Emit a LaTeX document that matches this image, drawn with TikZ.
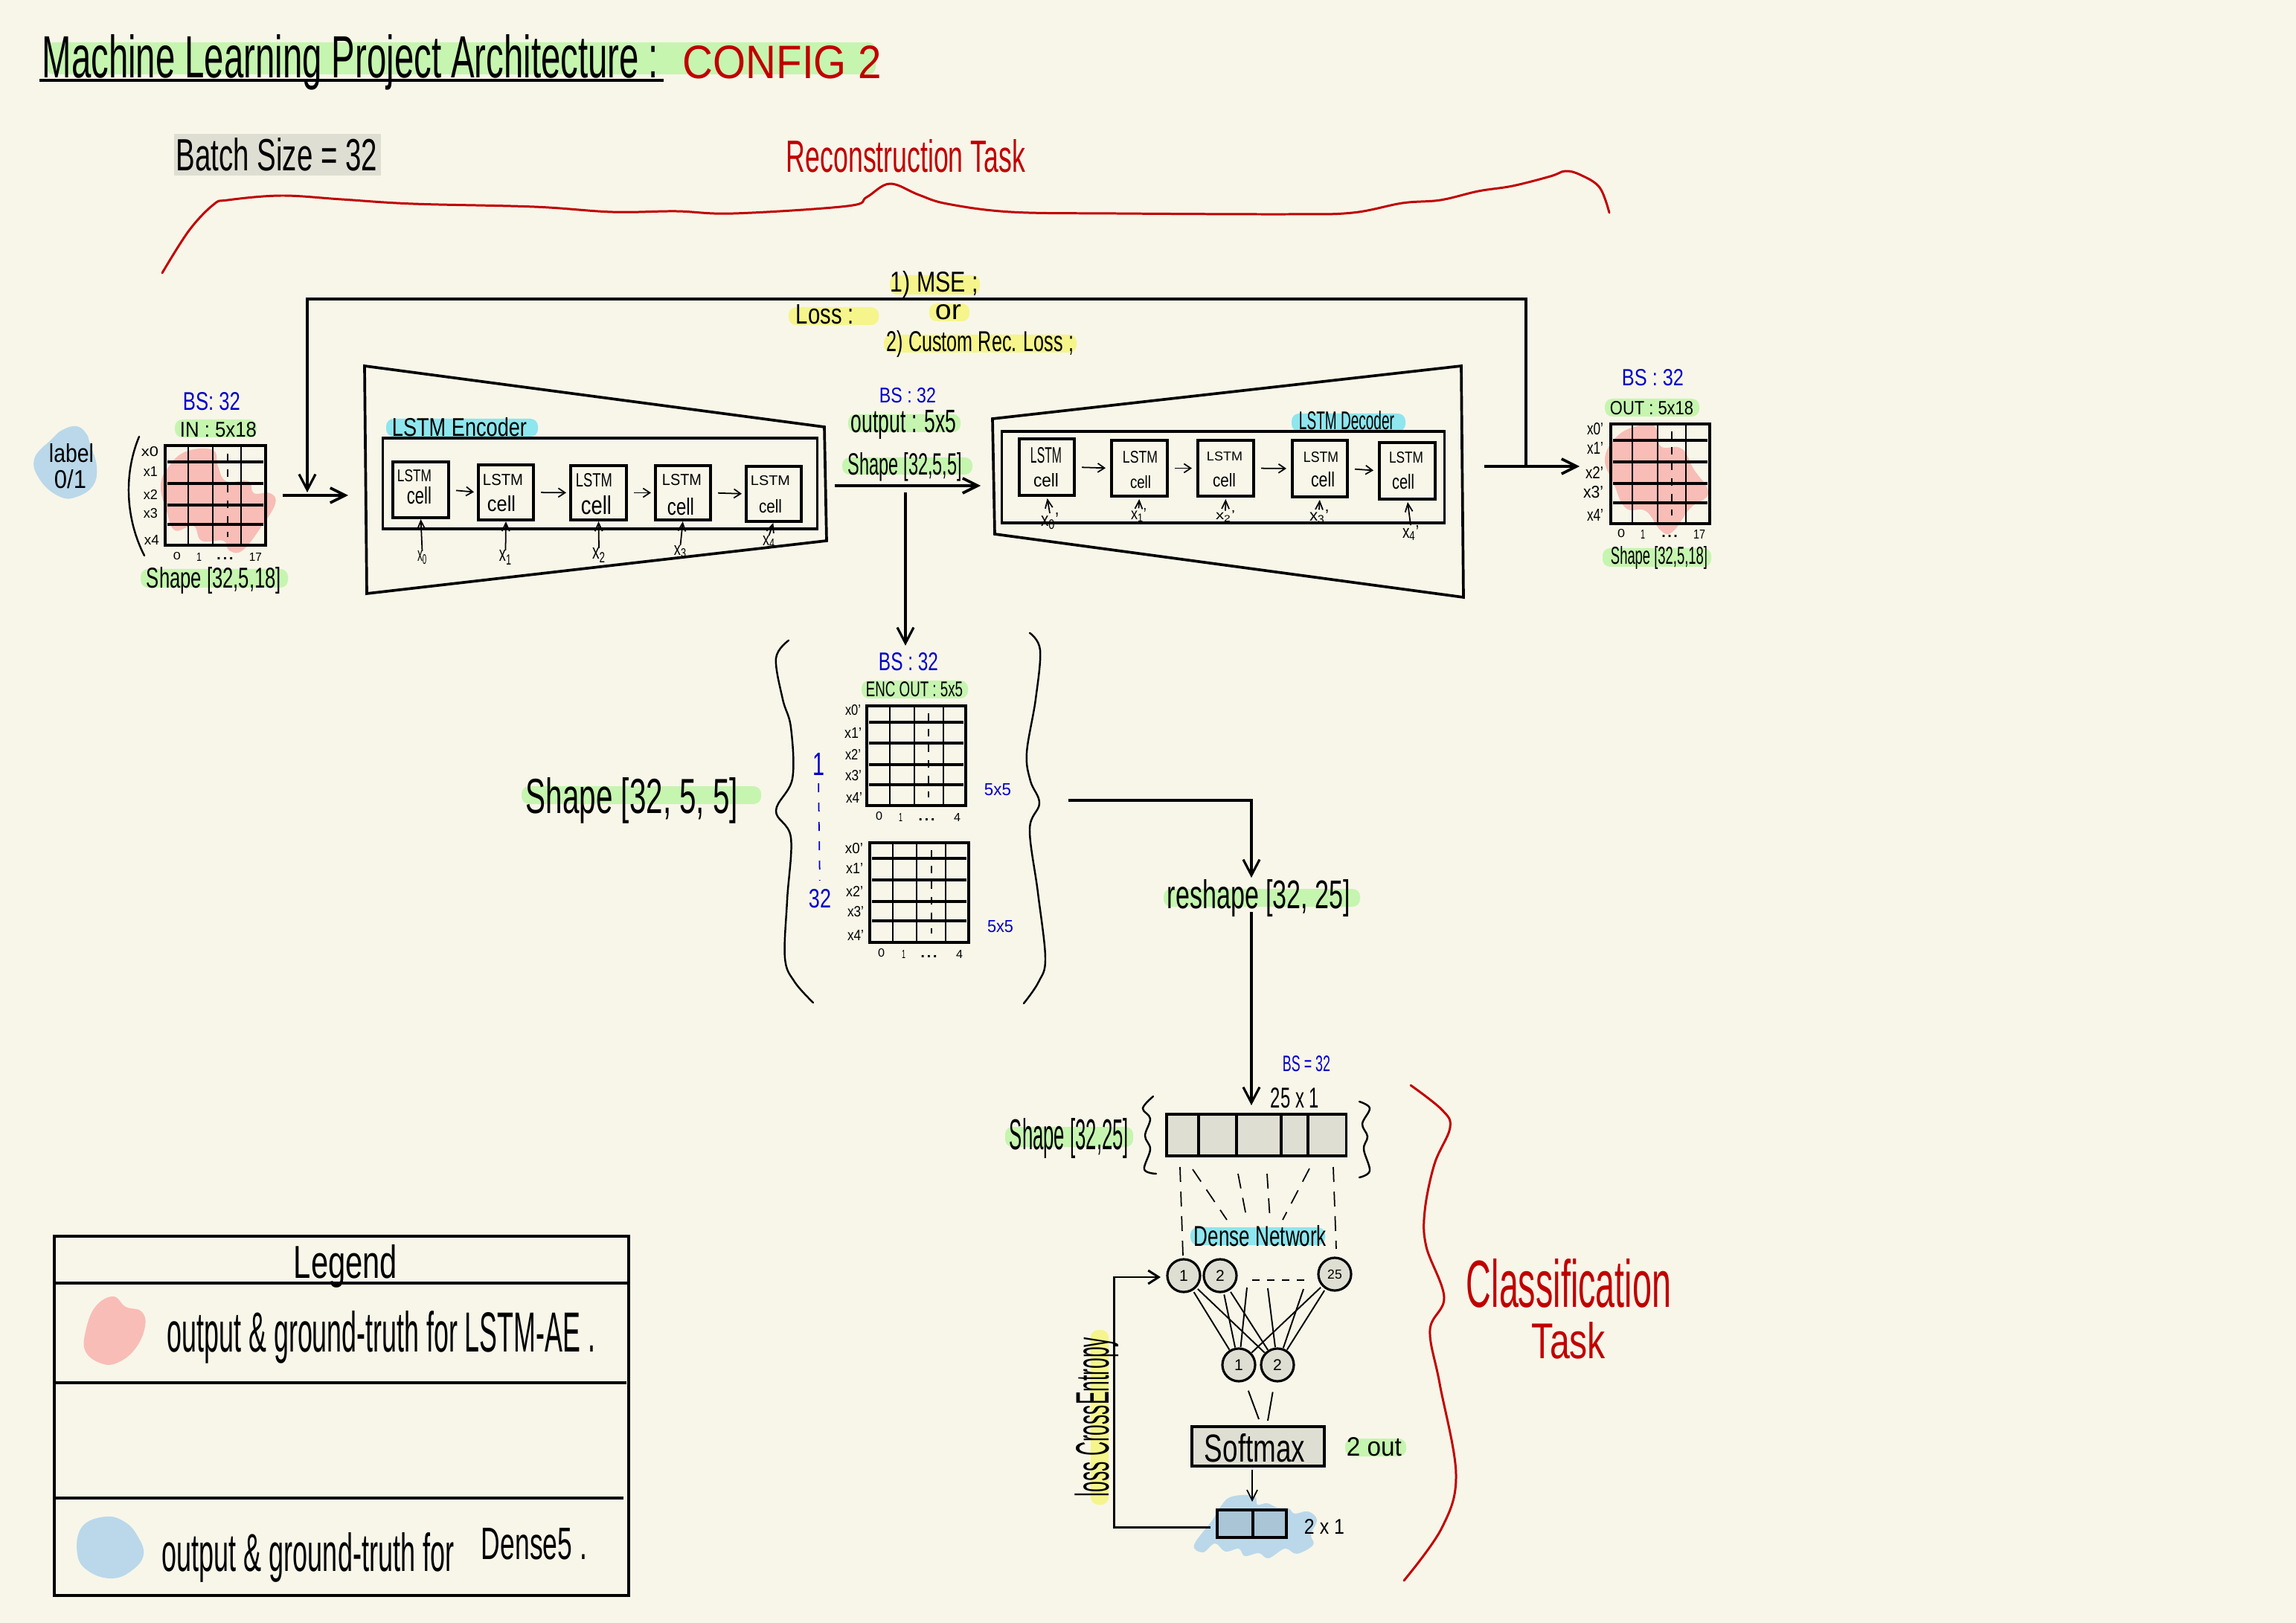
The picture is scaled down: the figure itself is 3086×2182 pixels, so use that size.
\documentclass[tikz,border=0pt]{standalone}
\usepackage{fontspec}
\usepackage{graphicx}
\usetikzlibrary{arrows.meta}
\setmainfont{Liberation Sans}
\definecolor{paper}{HTML}{F8F6E9}
\definecolor{hlgreen}{HTML}{C6F5B0}
\definecolor{hlyellow}{HTML}{F5F58C}
\definecolor{hlcyan}{HTML}{8EE6EE}
\definecolor{inkred}{HTML}{C00000}
\definecolor{inkblue}{HTML}{0000C8}
\definecolor{blobpink}{HTML}{F8BDB6}
\definecolor{blobblue}{HTML}{BAD8EA}
\definecolor{boxgray}{HTML}{DFDED2}
\definecolor{outfill}{HTML}{A9C5D6}
\newlength\twd
\newlength\thg
\tikzset{
  x=0.01cm,y=-0.01cm,
  hw/.style={inner sep=0pt,outer sep=0pt},
  penbox/.style={draw=black,line width=0.9pt,inner sep=0pt,outer sep=0pt},
  graybox/.style={penbox,fill=boxgray},
  thickln/.style={line width=1.05pt,draw=black},
  thinln/.style={line width=0.65pt,draw=black},
  bigarrow/.style={thickln,-{Straight Barb[length=2mm,width=2mm]}},
  arrowdown/.style={line width=0.9pt,draw=black,-{Straight Barb[length=2.1mm,width=2.2mm]}},
  smallarrow/.style={line width=0.5pt,draw=black,-{Straight Barb[length=0.9mm,width=1.2mm]}},
  uparrow/.style={line width=0.5pt,draw=black,-{Straight Barb[length=1.1mm,width=1mm]}},
  dashdots/.style={line width=0.5pt,draw=black,dash pattern=on 1mm off 1.1mm},
  handdash/.style={line width=0.5pt,draw=black,dash pattern=on 2mm off 1.3mm},
  bluedash/.style={line width=0.5pt,draw=inkblue,dash pattern=on 1.2mm off 1.4mm},
  redpen/.style={line width=0.85pt,draw=inkred,line cap=round},
  blackpen/.style={line width=0.7pt,draw=black,line cap=round},
  neuron/.style={circle,draw=black,fill=boxgray,line width=0.9pt,minimum size=0.44cm,inner sep=0pt,outer sep=0pt,font=\fontsize{6}{6}\selectfont},
}
% text fitted to a measured box: name,x1,x2,y1,y2,colour,text
\newcommand{\TX}[7]{%
  \pgfmathsetlength{\twd}{((#3)-(#2))*0.284528pt}%
  \pgfmathsetlength{\thg}{((#5)-(#4))*0.284528pt}%
  \node[hw,text=#6] (#1) at ({((#2)+(#3))/2},{((#4)+(#5))/2}) {\resizebox{\twd}{\thg}{#7}};}
% highlighter: colour,x1,x2,y1,y2
\newcommand{\HLB}[5]{\fill[#1,rounded corners=1mm] (#2,#4) rectangle (#3,#5);}
% box node: name,style,x1,x2,y1,y2
\newcommand{\BX}[6]{%
  \pgfmathsetlength{\twd}{((#4)-(#3))*0.284528pt}%
  \pgfmathsetlength{\thg}{((#6)-(#5))*0.284528pt}%
  \node[#2,minimum width=\twd,minimum height=\thg] (#1) at ({((#3)+(#4))/2},{((#5)+(#6))/2}) {};}
% grid: name,x1,x2,y1,y2,h list,v list
\newcommand{\GD}[7]{%
  \BX{#1}{penbox}{#2}{#3}{#4}{#5}%
  \foreach \yy in {#6} {\draw[thickln] ({(#2)+3},\yy) -- ({(#3)-3},\yy);}%
  \foreach \xx in {#7} {\draw[thinln] (\xx,#4) -- (\xx,#5);}}
\begin{document}
\begin{tikzpicture}
\useasboundingbox (0,0) rectangle (3086,2182);
\fill[paper] (0,0) rectangle (3086,2182);

% blobs
\fill[blobblue] plot[smooth cycle,tension=0.7] coordinates {(103,573)(116,583)(121,597)(130,627)(125,653)(103,668)(81,668)(55,647)(46,617)(70,590)(84,578)};
\fill[blobpink] plot[smooth cycle,tension=0.7] coordinates {(250,607)(286,605)(293,627)(304,647)(334,647)(341,663)(363,663)(370,677)(352,707)(326,740)(308,740)(300,727)(271,727)(260,707)(235,713)(224,687)(216,653)(227,627)};
\fill[blobpink] plot[smooth cycle,tension=0.7] coordinates {(2200,573)(2224,573)(2232,600)(2260,603)(2276,630)(2296,663)(2272,683)(2248,715)(2232,713)(2212,687)(2185,683)(2169,650)(2157,617)(2173,587)};
\fill[blobblue] plot[smooth cycle,tension=0.6] coordinates {(1605,2077)(1617,2087)(1633,2075)(1647,2086)(1665,2082)(1673,2092)(1692,2088)(1705,2095)(1727,2082)(1743,2089)(1765,2077)(1762,2063)(1770,2043)(1758,2032)(1740,2035)(1732,2028)(1717,2027)(1703,2021)(1690,2023)(1687,2012)(1670,2010)(1653,2013)(1643,2022)(1630,2043)};
\fill[blobpink] plot[smooth cycle,tension=0.7] coordinates {(152,1743)(169,1757)(190,1763)(195,1783)(182,1813)(158,1832)(136,1833)(115,1817)(115,1790)(128,1757)};
\fill[blobblue] plot[smooth cycle,tension=0.7] coordinates {(142,2039)(169,2047)(186,2067)(193,2090)(179,2110)(152,2122)(120,2113)(104,2090)(110,2053)};

% highlights
\HLB{hlgreen}{62}{1177}{57}{100}
\fill[boxgray] (234,180) rectangle (512,236);
\HLB{hlgreen}{235}{345}{564}{588}
\HLB{hlgreen}{189}{387}{765}{790}
\HLB{hlcyan}{519}{723}{563}{587}
\HLB{hlyellow}{1060}{1181}{413}{437}
\HLB{hlyellow}{1196}{1317}{370}{396}
\HLB{hlyellow}{1249}{1303}{408}{432}
\HLB{hlyellow}{1188}{1447}{450}{474}
\HLB{hlgreen}{1140}{1291}{557}{581}
\HLB{hlgreen}{1132}{1307}{615}{638}
\HLB{hlcyan}{1736}{1889}{556}{580}
\HLB{hlgreen}{2157}{2284}{536}{560}
\HLB{hlgreen}{2154}{2300}{737}{762}
\HLB{hlgreen}{701}{1023}{1057}{1081}
\HLB{hlgreen}{1158}{1301}{915}{939}
\HLB{hlgreen}{1564}{1828}{1195}{1219}
\HLB{hlgreen}{1351}{1523}{1515}{1542}
\HLB{hlcyan}{1600}{1781}{1650}{1674}
\HLB{hlgreen}{1808}{1890}{1934}{1958}
\HLB{hlyellow}{1466}{1490}{1788}{2023}

% title
\coordinate (ulA) at (53,108);
\coordinate (ulB) at (892,108);
\draw[line width=1.4pt] (ulA) -- (ulB);
\TX{title}{57}{885}{55}{113}{black}{Machine Learning Project Architecture :}
\TX{config}{918}{1185}{62}{106}{inkred}{CONFIG 2}
\TX{batch}{237}{507}{186}{230}{black}{Batch Size = 32}
\TX{recon}{1057}{1378}{188}{232}{inkred}{Reconstruction Task}

% reconstruction brace
\draw[redpen,line join=round] plot[smooth,tension=0.6] coordinates {(218,367)(254,310)(287,275)(306,269)(378,263)(459,268)(555,274)(718,278)(823,285)(909,284)(986,287)(1139,277)(1165,265)(1196,247)(1235,262)(1273,274)(1359,285)(1500,287)(1732,288)(1818,286)(1885,273)(1936,269)(1987,257)(2033,250)(2084,237)(2104,230)(2124,235)(2150,252)(2163,286)};

% loss
\TX{lossL}{1070}{1148}{410}{436}{black}{Loss :}
\TX{mse}{1197}{1315}{368}{396}{black}{1) MSE ;}
\TX{orr}{1257}{1292}{410}{430}{black}{or}
\TX{custom}{1192}{1443}{448}{476}{black}{2) Custom Rec. Loss ;}

% feedback connector
\coordinate (fbA) at (2051,627);
\coordinate (fbB) at (2051,402);
\coordinate (fbC) at (413,402);
\coordinate (fbD) at (413,662);
\draw[arrowdown] (fbA) -- (fbB) -- (fbC) -- (fbD);

% input
\TX{lab}{66}{126}{597}{622}{black}{label}
\TX{lab01}{73}{116}{632}{657}{black}{0/1}
\coordinate (parA) at (187,587);
\coordinate (parB) at (194,747);
\draw[blackpen] (parA) .. controls (165,640) and (170,700) .. (parB);
\TX{bsA}{246}{323}{528}{552}{inkblue}{BS: 32}
\TX{inA}{242}{345}{568}{588}{black}{IN : 5x18}
\GD{gridIn}{222}{357}{599}{733}{621,650,679,705}{253,286,324}
\coordinate (gInT) at (306,610);
\coordinate (gInB) at (306,722);
\draw[dashdots] (gInT) -- (gInB);
\TX{iy0}{190}{213}{601}{614}{black}{x0}
\TX{iy1}{193}{212}{627}{640}{black}{x1}
\TX{iy2}{193}{212}{659}{672}{black}{x2}
\TX{iy3}{193}{212}{684}{697}{black}{x3}
\TX{iy4}{194}{214}{719}{732}{black}{x4}
\TX{ia0}{233}{243}{743}{753}{black}{0}
\TX{ia1}{264}{271}{743}{754}{black}{1}
\TX{iad}{290}{315}{749}{752}{black}{...}
\TX{ia17}{335}{352}{743}{754}{black}{17}
\TX{shapeIn}{197}{378}{767}{795}{black}{Shape [32,5,18]}
\coordinate (inS) at (380,666);
\coordinate (inT) at (468,666);
\draw[bigarrow] (inS) -- (inT);

% encoder
\coordinate (eA) at (490,492);
\coordinate (eB) at (1108,574);
\coordinate (eC) at (1111,727);
\coordinate (eD) at (493,798);
\draw[line width=1.05pt,line join=miter] (eA) -- (eB) -- (eC) -- (eD) -- cycle;
\BX{einner}{penbox}{515}{1098}{589}{711}
\TX{enctitle}{527}{708}{562}{587}{black}{LSTM Encoder}
\BX{e0}{penbox}{528}{603}{621}{696}
\BX{e1}{penbox}{643}{717}{625}{699}
\BX{e2}{penbox}{767}{842}{626}{699}
\BX{e3}{penbox}{881}{955}{626}{699}
\BX{e4}{penbox}{1003}{1077}{627}{701}
\TX{e0l}{534}{580}{632}{648}{black}{LSTM}
\TX{e1l}{649}{703}{638}{653}{black}{LSTM}
\TX{e2l}{774}{823}{637}{655}{black}{LSTM}
\TX{e3l}{890}{943}{638}{653}{black}{LSTM}
\TX{e4l}{1009}{1062}{640}{653}{black}{LSTM}
\TX{e0c}{547}{580}{655}{678}{black}{cell}
\TX{e1c}{655}{693}{667}{688}{black}{cell}
\TX{e2c}{781}{822}{667}{692}{black}{cell}
\TX{e3c}{897}{933}{670}{693}{black}{cell}
\TX{e4c}{1020}{1051}{672}{690}{black}{cell}
\foreach \a/\b in {e0/e1,e1/e2,e2/e3,e3/e4} {\draw[smallarrow,shorten <=1mm,shorten >=0.6mm] (\a.east) -- (\b.west);}
\TX{ex0}{561}{574}{743}{757}{black}{x\textsubscript{0}}
\TX{ex1}{671}{688}{742}{757}{black}{x\textsubscript{1}}
\TX{ex2}{796}{814}{739}{754}{black}{x\textsubscript{2}}
\TX{ex3}{906}{923}{735}{748}{black}{x\textsubscript{3}}
\TX{ex4}{1025}{1042}{722}{735}{black}{x\textsubscript{4}}
\foreach \i in {0,1,2,3,4} {\draw[uparrow,shorten >=0.2mm] (ex\i.north) -- (e\i.south);}

% latent labels
\TX{bsB}{1182}{1258}{522}{542}{inkblue}{BS : 32}
\TX{outB}{1144}{1285}{556}{586}{black}{output : 5x5}
\TX{shapeB}{1140}{1293}{613}{643}{black}{Shape [32,5,5]}
\coordinate (midS) at (1122,653);
\coordinate (midT) at (1318,653);
\draw[bigarrow] (midS) -- (midT);
\coordinate (dnS) at (1217,662);
\coordinate (dnT) at (1217,868);
\draw[arrowdown] (dnS) -- (dnT);

% decoder
\coordinate (dA) at (1334,563);
\coordinate (dB) at (1964,492);
\coordinate (dC) at (1967,803);
\coordinate (dD) at (1337,718);
\draw[line width=1.05pt,line join=miter] (dA) -- (dB) -- (dC) -- (dD) -- cycle;
\BX{dinner}{penbox}{1347}{1941}{580}{703}
\TX{dectitle}{1746}{1874}{553}{578}{black}{LSTM Decoder}
\BX{d0}{penbox}{1370}{1444}{590}{666}
\BX{d1}{penbox}{1494}{1569}{592}{667}
\BX{d2}{penbox}{1610}{1685}{592}{667}
\BX{d3}{penbox}{1737}{1811}{592}{668}
\BX{d4}{penbox}{1854}{1929}{595}{671}
\TX{d0l}{1385}{1427}{602}{623}{black}{LSTM}
\TX{d1l}{1509}{1556}{607}{623}{black}{LSTM}
\TX{d2l}{1622}{1670}{608}{620}{black}{LSTM}
\TX{d3l}{1752}{1799}{608}{622}{black}{LSTM}
\TX{d4l}{1867}{1913}{608}{623}{black}{LSTM}
\TX{d0c}{1389}{1423}{637}{655}{black}{cell}
\TX{d1c}{1519}{1547}{640}{657}{black}{cell}
\TX{d2c}{1630}{1661}{637}{655}{black}{cell}
\TX{d3c}{1762}{1794}{635}{655}{black}{cell}
\TX{d4c}{1871}{1901}{638}{658}{black}{cell}
\foreach \a/\b in {d0/d1,d1/d2,d2/d3,d3/d4} {\draw[smallarrow,shorten <=1mm,shorten >=0.8mm] (\a.east) -- (\b.west);}
\TX{dx0}{1399}{1423}{692}{710}{black}{x\textsubscript{0}'}
\TX{dx1}{1520}{1541}{685}{700}{black}{x\textsubscript{1}'}
\TX{dx2}{1634}{1660}{688}{700}{black}{x\textsubscript{2}'}
\TX{dx3}{1760}{1786}{687}{702}{black}{x\textsubscript{3}'}
\TX{dx4}{1885}{1907}{708}{725}{black}{x\textsubscript{4}'}
\foreach \i in {0,1,2,3,4} {\draw[uparrow,shorten >=0.4mm] (dx\i.north) -- (d\i.south);}

% output
\coordinate (outS) at (1995,627);
\coordinate (outT) at (2123,627);
\draw[bigarrow] (outS) -- (outT);
\TX{bsC}{2180}{2263}{497}{519}{inkblue}{BS : 32}
\TX{outC}{2164}{2276}{540}{558}{black}{OUT : 5x18}
\GD{gridOut}{2165}{2298}{570}{704}{592,621,650,676}{2194,2228,2266}
\coordinate (gOutT) at (2247,580);
\coordinate (gOutB) at (2247,693);
\draw[dashdots] (gOutT) -- (gOutB);
\TX{oy0}{2133}{2155}{569}{585}{black}{x0'}
\TX{oy1}{2133}{2155}{594}{610}{black}{x1'}
\TX{oy2}{2131}{2155}{627}{643}{black}{x2'}
\TX{oy3}{2128}{2155}{654}{670}{black}{x3'}
\TX{oy4}{2133}{2155}{685}{701}{black}{x4'}
\TX{oa0}{2174}{2184}{712}{723}{black}{0}
\TX{oa1}{2205}{2211}{712}{724}{black}{1}
\TX{oad}{2232}{2256}{719}{722}{black}{...}
\TX{oa17}{2276}{2292}{712}{724}{black}{17}
\TX{shapeOut}{2165}{2295}{738}{762}{black}{Shape [32,5,18]}

% batch group
\draw[blackpen] plot[smooth,tension=0.6] coordinates {(1060,861)(1043,885)(1052,940)(1063,978)(1065,1047)(1043,1090)(1063,1126)(1058,1210)(1055,1288)(1068,1320)(1093,1348)};
\draw[blackpen] plot[smooth,tension=0.6] coordinates {(1384,851)(1398,874)(1392,940)(1380,1012)(1385,1050)(1397,1080)(1384,1115)(1395,1200)(1405,1288)(1396,1320)(1376,1349)};
\TX{shapeBig}{707}{992}{1052}{1100}{black}{Shape [32, 5, 5]}
\TX{bsD}{1181}{1261}{878}{902}{inkblue}{BS : 32}
\TX{encout}{1164}{1294}{917}{937}{black}{ENC OUT : 5x5}
\GD{gridE}{1165}{1298}{949}{1083}{971,999,1028,1055}{1196,1229,1268}
\coordinate (gET) at (1248,959);
\coordinate (gEB) at (1248,1072);
\draw[dashdots] (gET) -- (gEB);
\TX{ey0}{1136}{1157}{948}{962}{black}{x0'}
\TX{ey1}{1135}{1158}{978}{992}{black}{x1'}
\TX{ey2}{1136}{1157}{1007}{1021}{black}{x2'}
\TX{ey3}{1136}{1158}{1036}{1050}{black}{x3'}
\TX{ey4}{1137}{1159}{1065}{1079}{black}{x4'}
\TX{ea0}{1177}{1186}{1092}{1103}{black}{0}
\TX{ea1}{1208}{1213}{1093}{1104}{black}{1}
\TX{ead}{1233}{1258}{1100}{1103}{black}{...}
\TX{ea4}{1282}{1291}{1093}{1104}{black}{4}
\GD{gridF}{1169}{1302}{1133}{1267}{1154,1183,1212,1238}{1200,1232,1271}
\coordinate (gFT) at (1252,1143);
\coordinate (gFB) at (1252,1255);
\draw[dashdots] (gFT) -- (gFB);
\TX{fy0}{1136}{1160}{1134}{1148}{black}{x0'}
\TX{fy1}{1137}{1160}{1160}{1174}{black}{x1'}
\TX{fy2}{1137}{1160}{1191}{1205}{black}{x2'}
\TX{fy3}{1139}{1161}{1219}{1233}{black}{x3'}
\TX{fy4}{1139}{1161}{1250}{1264}{black}{x4'}
\TX{fa0}{1180}{1189}{1276}{1287}{black}{0}
\TX{fa1}{1212}{1217}{1277}{1288}{black}{1}
\TX{fad}{1236}{1261}{1284}{1287}{black}{...}
\TX{fa4}{1285}{1294}{1277}{1288}{black}{4}
\TX{one}{1092}{1108}{1012}{1042}{inkblue}{1}
\TX{tt}{1087}{1117}{1196}{1221}{inkblue}{32}
\draw[bluedash,shorten <=1.1mm,shorten >=1.2mm] (one.south) -- (tt.north);
\TX{fiveA}{1323}{1359}{1054}{1070}{inkblue}{5x5}
\TX{fiveB}{1327}{1362}{1238}{1254}{inkblue}{5x5}

% reshape
\coordinate (rsS) at (1436,1076);
\coordinate (rsM) at (1682,1076);
\coordinate (rsT) at (1682,1180);
\draw[arrowdown] (rsS) -- (rsM) -- (rsT);
\TX{reshape}{1569}{1815}{1188}{1227}{black}{reshape [32, 25]}
\coordinate (rs2) at (1682,1226);
\coordinate (rs3) at (1682,1486);
\draw[arrowdown] (rs2) -- (rs3);

% dense
\TX{bsE}{1724}{1788}{1420}{1441}{inkblue}{BS = 32}
\TX{twentyfive}{1708}{1773}{1463}{1490}{black}{25 x 1}
\BX{bar}{graybox}{1568}{1809}{1498}{1554}
\foreach \xx in {1611,1662,1722,1758} {\draw[penbox] (\xx,1498) -- (\xx,1554);}
\TX{shapeD}{1357}{1517}{1510}{1552}{black}{Shape [32,25]}
\draw[blackpen] plot[smooth,tension=0.6] coordinates {(1550,1474)(1536,1490)(1546,1504)(1539,1527)(1546,1545)(1538,1572)(1554,1578)};
\draw[blackpen] plot[smooth,tension=0.6] coordinates {(1827,1481)(1841,1490)(1831,1511)(1838,1528)(1833,1545)(1841,1574)(1827,1583)};
\coordinate (ds1) at (1586,1569); \coordinate (de1) at (1590,1688);
\coordinate (ds2) at (1603,1572); \coordinate (de2) at (1649,1640);
\coordinate (ds3) at (1664,1578); \coordinate (de3) at (1675,1635);
\coordinate (ds4) at (1703,1578); \coordinate (de4) at (1707,1640);
\coordinate (ds5) at (1760,1571); \coordinate (de5) at (1724,1640);
\coordinate (ds6) at (1792,1569); \coordinate (de6) at (1796,1679);
\foreach \i in {1,...,6} {\draw[handdash] (ds\i) -- (de\i);}
\TX{dense}{1605}{1783}{1648}{1676}{black}{Dense Network}
\coordinate (d1) at (1676,1731);
\coordinate (d2) at (1704,1732);
\coordinate (d3) at (1752,1733);
\coordinate (dotS) at (1683,1721);
\coordinate (dotE) at (1759,1721);
\draw[handdash,dash pattern=on 1mm off 1mm] (dotS) -- (dotE);
\node[neuron] (n1) at (1591,1715) {1};
\node[neuron] (n2) at (1640,1715) {2};
\node[neuron,font=\fontsize{5}{5}\selectfont] (n25) at (1794,1713) {25};
\node[neuron] (o1) at (1665,1835) {1};
\node[neuron] (o2) at (1717,1835) {2};
\foreach \a/\b in {n1/o1,n1/o2,n2/o1,n2/o2,n25/o1,n25/o2} {\draw[line width=0.55pt,shorten <=0.4mm,shorten >=0.2mm] (\a) -- (\b);}
\foreach \a/\b in {d1/o1,d2/o2,d3/o2} {\draw[line width=0.55pt,shorten >=0.2mm] (\a) -- (\b);}
\BX{sm}{graybox}{1602}{1780}{1918}{1971}
\TX{soft}{1619}{1754}{1928}{1966}{black}{Softmax}
\coordinate (smA) at (1692,1908);
\coordinate (smB) at (1704,1910);
\draw[line width=0.55pt,shorten <=1.5mm] (o1) -- (smA);
\draw[line width=0.55pt,shorten <=1.5mm] (o2) -- (smB);
\TX{twoout}{1810}{1884}{1933}{1958}{black}{2 out}
\BX{outbox}{penbox,fill=outfill}{1636}{1729}{2030}{2067}
\coordinate (odT) at (1684,2030);
\coordinate (odB) at (1684,2067);
\draw[penbox] (odT) -- (odB);
\coordinate (oaS) at (1683,1976);
\coordinate (oaT) at (1683,2019);
\draw[line width=0.5pt,-{Straight Barb[length=1.4mm,width=1.4mm]}] (oaS) -- (oaT);
\TX{twoxone}{1753}{1807}{2042}{2062}{black}{2 x 1}
\coordinate (lsA) at (1627,2053);
\coordinate (lsB) at (1497,2053);
\coordinate (lsC) at (1497,1717);
\node[hw,rotate=90] (lossCE) at (1474,1905) {\resizebox{61pt}{13pt}{loss CrossEntropy}};
\coordinate (lsD) at (1560,1717);
\draw[line width=0.85pt,-{Straight Barb[length=1.4mm,width=1.8mm]}] (lsA) -- (lsB) -- (lsC) -- (lsD);

% classification brace
\draw[redpen] plot[smooth,tension=0.6] coordinates {(1896,1459)(1938,1492)(1949,1516)(1928,1565)(1915,1628)(1917,1676)(1941,1744)(1922,1788)(1935,1860)(1957,1982)(1938,2054)(1887,2125)};
\TX{classif}{1971}{2246}{1693}{1758}{inkred}{Classification}
\TX{taskt}{2059}{2158}{1778}{1827}{inkred}{Task}

% legend
\BX{legend}{penbox,line width=1pt}{73}{845}{1662}{2145}
\coordinate (lgA1) at (73,1725); \coordinate (lgA2) at (845,1725);
\coordinate (lgB1) at (75,1859); \coordinate (lgB2) at (842,1859);
\coordinate (lgC1) at (73,2014); \coordinate (lgC2) at (838,2014);
\draw[thickln] (lgA1) -- (lgA2);
\draw[thickln] (lgB1) -- (lgB2);
\draw[thickln] (lgC1) -- (lgC2);
\TX{legendT}{395}{534}{1680}{1725}{black}{Legend}
\TX{legA}{225}{800}{1770}{1825}{black}{output \& ground-truth for LSTM-AE .}
\TX{legB}{218}{610}{2068}{2120}{black}{output \& ground-truth for}
\TX{legC}{647}{789}{2055}{2097}{black}{Dense5 .}
\end{tikzpicture}
\end{document}
